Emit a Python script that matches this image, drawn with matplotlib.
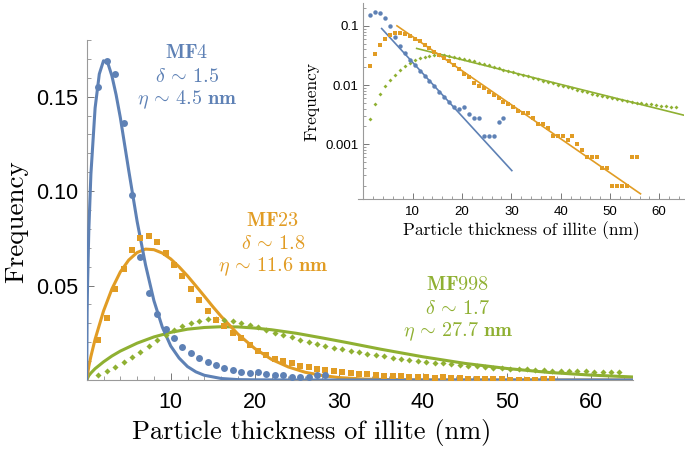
import matplotlib
matplotlib.use("Agg")
import matplotlib.pyplot as plt
import numpy as np
from matplotlib.ticker import MultipleLocator, FixedLocator, LogLocator, NullFormatter

plt.rcParams['mathtext.fontset'] = 'cm'
plt.rcParams['axes.unicode_minus'] = False

BLUE = '#5E81B5'
ORANGE = '#E19C24'
GREEN = '#8FB032'

# measured histograms (bin positions in nm)
blue_x = np.arange(1, 29) + 0.4
blue_freq = [0.155, 0.169, 0.162, 0.136, 0.098, 0.065, 0.046, 0.035, 0.027, 0.022,
             0.0175, 0.0145, 0.0118, 0.0096, 0.0077, 0.0063, 0.0052, 0.0042, 0.0039, 0.0042,
             0.0032, 0.0028, 0.0028, 0.0014, 0.0014, 0.0014, 0.0024, 0.0028]

orange_x = np.arange(1, 56) + 0.4
orange_freq = [0.021, 0.033, 0.048, 0.059, 0.069, 0.075, 0.076, 0.073, 0.067, 0.061,
               0.055, 0.048, 0.0423, 0.0367, 0.032, 0.0286, 0.025, 0.022, 0.0185, 0.0155,
               0.0135, 0.011, 0.0098, 0.0088, 0.0075, 0.0068, 0.006, 0.0052, 0.0048, 0.0042,
               0.0036, 0.0034, 0.0034, 0.0028, 0.0022, 0.0022, 0.0019, 0.0014, 0.0014, 0.0014,
               0.0012, 0.0014, 0.001, 0.0008, 0.0006, 0.0006, 0.0006, 0.0004, 0.0004, 0.0002,
               0.0002, 0.0002, 0.0002, 0.0006, 0.0006]

green_x = np.arange(1, 64) + 0.4
green_freq = [0.0027, 0.0048, 0.0071, 0.0095, 0.0122, 0.015, 0.018, 0.021, 0.024, 0.0265,
              0.0285, 0.030, 0.0315, 0.0322, 0.0323, 0.032, 0.031, 0.030, 0.029, 0.0278,
              0.0265, 0.025, 0.0238, 0.0226, 0.0214, 0.0202, 0.0192, 0.0181, 0.0172, 0.0163,
              0.0155, 0.0147, 0.014, 0.0133, 0.0126, 0.0119, 0.0113, 0.0107, 0.0102, 0.0097,
              0.0092, 0.0088, 0.0083, 0.0079, 0.0075, 0.0072, 0.0069, 0.0066, 0.0063, 0.006,
              0.0058, 0.0056, 0.0054, 0.0052, 0.005, 0.0049, 0.0048, 0.0047, 0.0046, 0.0045,
              0.0044, 0.0043, 0.0043]

# fitted curves
blue_fit_x = [0, 0.05, 0.1, 0.25, 0.5, 1, 1.5, 2, 2.5, 3, 3.5, 4, 5, 6, 7, 8, 9, 10,
              11, 12, 13, 14, 16, 18, 20, 25, 65]
blue_fit_y = [0, 0.036, 0.050, 0.079, 0.109, 0.144, 0.162, 0.169, 0.168, 0.161, 0.151, 0.139,
              0.111, 0.084, 0.061, 0.042, 0.028, 0.018, 0.0116, 0.0071, 0.0043, 0.0025,
              0.0008, 0.0002, 0.0001, 0, 0]

orange_fit_x = [0, 0.25, 0.5, 1, 2, 3, 4, 5, 6, 7, 8, 9, 10, 11, 12, 13, 14, 15, 16, 18,
                20, 22, 24, 26, 28, 30, 33, 36, 40, 65]
orange_fit_y = [0, 0.0072, 0.0125, 0.0216, 0.0365, 0.0482, 0.0572, 0.0635, 0.0675, 0.0693,
                0.069, 0.0672, 0.0641, 0.0599, 0.0551, 0.0498, 0.0444, 0.0389, 0.0337, 0.0243,
                0.0167, 0.0109, 0.0069, 0.0041, 0.0024, 0.0013, 0.0005, 0.0002, 0, 0]

green_fit_x = [0, 0.25, 0.5, 1, 2, 3, 4, 6, 8, 10, 12, 14, 16, 18, 20, 22, 25, 28, 31, 35,
               40, 45, 50, 55, 60, 65]
green_fit_y = [0, 0.0023, 0.0037, 0.006, 0.0096, 0.0127, 0.0153, 0.0195, 0.0228, 0.0252,
               0.0269, 0.0278, 0.0282, 0.0281, 0.0275, 0.0266, 0.0247, 0.0223, 0.0198, 0.0163,
               0.0123, 0.0088, 0.0061, 0.004, 0.0026, 0.0016]

# exponential tails in the log inset
blue_tail_x, blue_tail_y = [3.7, 30.1], [0.090, 0.00036]
orange_tail_x, orange_tail_y = [6.8, 56.2], [0.100, 0.000146]
green_tail_x, green_tail_y = [10.8, 65], [0.0415, 0.0031]

W, H = 685, 453
fig = plt.figure(figsize=(W / 100, H / 100), dpi=100)

def px_axes(left, top, right, bottom):
    return fig.add_axes([left / W, 1 - bottom / H, (right - left) / W, (bottom - top) / H])

def style_axes(ax, size):
    for s in ['top', 'right']:
        ax.spines[s].set_visible(False)
    for s in ['left', 'bottom']:
        ax.spines[s].set_color('#9a9a9a')
        ax.spines[s].set_linewidth(0.8)
    ax.tick_params(which='both', direction='in', color='#777777', labelcolor='black',
                   labelsize=size, labelfontfamily='Liberation Sans')
    ax.tick_params(which='major', length=5, width=0.7)
    ax.tick_params(which='minor', length=3, width=0.5)

# main plot
ax = px_axes(86.7, 40, 632.8, 380)
ax.plot(green_fit_x, green_fit_y, color=GREEN, lw=2.2, zorder=2)
ax.plot(orange_fit_x, orange_fit_y, color=ORANGE, lw=2.2, zorder=2)
ax.plot(blue_fit_x, blue_fit_y, color=BLUE, lw=2.2, zorder=3)
ax.plot(green_x, green_freq, 'D', color=GREEN, ms=3.1, mew=0, zorder=4)
ax.plot(orange_x, orange_freq, 's', color=ORANGE, ms=4.8, mew=0, zorder=4)
ax.plot(blue_x, blue_freq, 'o', color=BLUE, ms=5, mew=0, zorder=5)
ax.set_xlim(0, 65)
ax.set_ylim(0, 0.18)
style_axes(ax, 15.5)
ax.xaxis.set_major_locator(FixedLocator([10, 20, 30, 40, 50, 60]))
ax.xaxis.set_minor_locator(MultipleLocator(2))
ax.yaxis.set_major_locator(FixedLocator([0.05, 0.10, 0.15]))
ax.yaxis.set_minor_locator(MultipleLocator(0.01))
ax.set_yticklabels(['0.05', '0.10', '0.15'])
ax.tick_params(axis='x', pad=9)
ax.tick_params(axis='y', pad=6)
ax.set_facecolor('none')

fig.text(312, H - 432, 'Particle thickness of illite (nm)', transform=None,
         family='cmr10', fontsize=19, ha='center', va='center')
fig.text(16, H - 222, 'Frequency', transform=None, family='cmr10', fontsize=19.5,
         rotation=90, ha='center', va='center')

labels = [
    (187, 53, BLUE, [r'$\mathbf{MF4}$', r'$\delta\,\sim\,\mathbf{1.5}$', r'$\eta\,\sim\,\mathbf{4.5\ nm}$']),
    (273, 220, ORANGE, [r'$\mathbf{MF23}$', r'$\delta\,\sim\,\mathbf{1.8}$', r'$\eta\,\sim\,\mathbf{11.6\ nm}$']),
    (458, 285, GREEN, [r'$\mathbf{MF998}$', r'$\delta\,\sim\,\mathbf{1.7}$', r'$\eta\,\sim\,\mathbf{27.7\ nm}$']),
]
for cx, cy, col, lines in labels:
    for i, t in enumerate(lines):
        fig.text(cx, H - (cy + 23.3 * i), t, transform=None, color=col, fontsize=14.5,
                 ha='center', va='center')

# inset (log scale)
ins = px_axes(358, 3.3, 683.9, 199.3)
ins.set_yscale('log')
ins.plot(green_tail_x, green_tail_y, color=GREEN, lw=1.2, zorder=2)
ins.plot(orange_tail_x, orange_tail_y, color=ORANGE, lw=1.2, zorder=2)
ins.plot(blue_tail_x, blue_tail_y, color=BLUE, lw=1.2, zorder=2)
ins.plot(green_x, green_freq, 'D', color=GREEN, ms=2.0, mew=0, zorder=3)
ins.plot(orange_x, orange_freq, 's', color=ORANGE, ms=3.0, mew=0, zorder=3)
ins.plot(blue_x, blue_freq, 'o', color=BLUE, ms=3.2, mew=0, zorder=4)
ins.set_xlim(-1.1, 65)
ins.set_ylim(1.18e-4, 0.24)
ins.spines['left'].set_position(('data', 0))
style_axes(ins, 9.5)
ins.tick_params(which='major', length=4)
ins.tick_params(which='minor', length=2)
ins.xaxis.set_major_locator(FixedLocator([10, 20, 30, 40, 50, 60]))
ins.xaxis.set_minor_locator(MultipleLocator(2))
ins.yaxis.set_major_locator(FixedLocator([0.1, 0.01, 0.001]))
ins.yaxis.set_minor_locator(LogLocator(base=10, subs=np.arange(2, 10)))
ins.yaxis.set_minor_formatter(NullFormatter())
ins.set_yticklabels(['0.1', '0.01', '0.001'])
ins.tick_params(axis='x', pad=5)
ins.set_facecolor('none')
ins.set_xlabel('Particle thickness of illite (nm)', family='cmr10', fontsize=12.5, labelpad=2)
ins.set_ylabel('Frequency', family='cmr10', fontsize=12.5, labelpad=4)

fig.savefig('out.png', dpi=100)
